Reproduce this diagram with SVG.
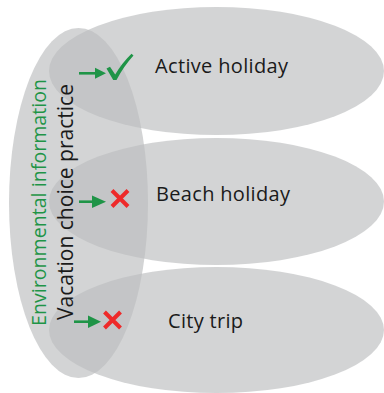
<svg xmlns="http://www.w3.org/2000/svg" width="384" height="393" viewBox="0 0 384 393">
<style>
.bub{fill:rgb(188,189,192);fill-opacity:0.66}
.lbl{font-family:"Open Sans","Liberation Sans",sans-serif;font-size:20px;fill:#1a1a1a}
.env{font-family:"Open Sans","Liberation Sans",sans-serif;font-size:19.5px;fill:#1f9447}
.vac{font-family:"Open Sans","Liberation Sans",sans-serif;font-size:21px;fill:#1a1a1a}
.arr{stroke:#1f9447;stroke-width:2.6;fill:none}
.head{fill:#1f9447}
.x{stroke:#ee2a2a;stroke-width:4;fill:none}
</style>
<rect width="384" height="393" fill="#ffffff"/>
<g id="active">
<ellipse class="bub" cx="216.5" cy="71" rx="167.5" ry="64"/>
<text class="lbl" x="155" y="73" textLength="133">Active holiday</text>
</g>
<g id="beach">
<ellipse class="bub" cx="216.5" cy="201.5" rx="167.5" ry="63.5"/>
<text class="lbl" x="156" y="201" textLength="134">Beach holiday</text>
</g>
<g id="city">
<ellipse class="bub" cx="216.5" cy="330" rx="167.5" ry="63"/>
<text class="lbl" x="168" y="328" textLength="75">City trip</text>
</g>
<g id="choice">
<ellipse class="bub" cx="78.5" cy="203" rx="69.5" ry="175"/>
<text class="env" transform="translate(45.5,326) rotate(-90)" textLength="247">Environmental information</text>
<text class="vac" transform="translate(72.5,320) rotate(-90)" textLength="236">Vacation choice practice</text>
</g>
<g id="connectors">
<line class="arr" x1="79" y1="73.3" x2="96" y2="73.3"/>
<polygon class="head" points="95,67.8 106,73.3 95,78.8"/>
<path class="head" d="M106.5,68.5 L110,66.8 L115.2,74.5 Q122,63 131.5,53.8 L133.5,55.5 Q123.5,66.5 116.5,80 L113.2,80 Z"/>
<line class="arr" x1="79" y1="201.7" x2="93" y2="201.7"/>
<polygon class="head" points="92,195.5 106,201.7 92,207.9"/>
<path class="x" d="M112,190.5 L128,206.5 M128,190.5 L112,206.5"/>
<line class="arr" x1="74" y1="321.7" x2="89" y2="321.7"/>
<polygon class="head" points="88,315.5 101,321.7 88,327.9"/>
<path class="x" d="M104.5,312 L120.5,328 M120.5,312 L104.5,328"/>
</g>
</svg>
